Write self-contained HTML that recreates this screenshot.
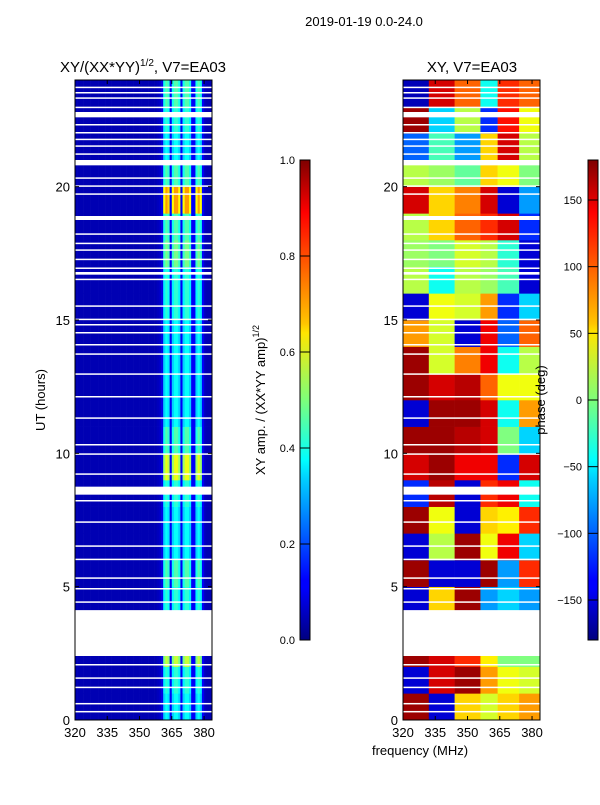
<!DOCTYPE html>
<html><head><meta charset="utf-8"><style>
html,body{margin:0;padding:0;background:#fff}
svg text{font-family:"Liberation Sans",sans-serif;fill:#000}
</style></head><body>
<svg id="fig" width="600" height="800" xmlns="http://www.w3.org/2000/svg">
<defs>
<linearGradient id="jet" x1="0" y1="1" x2="0" y2="0">
<stop offset="0" stop-color="#00007f"/><stop offset="0.11" stop-color="#0000ff"/><stop offset="0.125" stop-color="#0000ff"/>
<stop offset="0.34" stop-color="#00d4ff"/><stop offset="0.375" stop-color="#00ffff"/><stop offset="0.5" stop-color="#7dff7a"/>
<stop offset="0.64" stop-color="#ffe600"/><stop offset="0.66" stop-color="#ffc400"/><stop offset="0.89" stop-color="#ff0000"/><stop offset="1" stop-color="#7f0000"/>
</linearGradient>
</defs>
<text x="364" y="26" font-size="13" text-anchor="middle">2019-01-19 0.0-24.0</text>
<text x="143" y="72" font-size="15" text-anchor="middle">XY/(XX*YY)<tspan font-size="10" dy="-6">1/2</tspan><tspan dy="6">, V7=EA03</tspan></text>
<text x="472" y="72" font-size="15" text-anchor="middle">XY, V7=EA03</text>
<g id="left"></g>
<g id="right"></g>
<g id="axes"></g>
<text transform="translate(45,400) rotate(-90)" font-size="13" text-anchor="middle">UT (hours)</text>
<text x="420" y="755" font-size="13" text-anchor="middle">frequency (MHz)</text>
<rect x="300" y="160" width="10" height="480" fill="url(#jet)" stroke="#000" stroke-width="1"/>
<rect x="588" y="160" width="10" height="480" fill="url(#jet)" stroke="#000" stroke-width="1"/>
<text transform="translate(265,400) rotate(-90)" font-size="13" text-anchor="middle">XY amp. / (XX*YY amp)<tspan font-size="9" dy="-6">1/2</tspan></text>
<text transform="translate(545,400) rotate(-90)" font-size="13" text-anchor="middle">phase (deg)</text>
<g id="cbt"></g>
</svg>
<script>
const freqTicks=[320,335,350,365,380];
const hourTicks=[0,5,10,15,20];
const ampTicks=["0.0","0.2","0.4","0.6","0.8","1.0"];
const phaseTicks=[-150,-100,-50,0,50,100,150];
// amplitude column profile, 1 MHz bins from 320
const ampCols=[0.05,0.05,0.05,0.05,0.05,0.05,0.05,0.05,0.05,0.05,0.05,0.05,0.05,0.05,0.05,0.05,0.05,0.05,0.05,0.05,
0.05,0.05,0.05,0.05,0.05,0.05,0.05,0.05,0.05,0.05,0.05,0.05,0.05,0.05,0.05,0.05,0.05,0.05,0.06,0.07,
0.1,0.33,0.38,0.35,0.12,0.33,0.38,0.38,0.33,0.12,0.33,0.38,0.38,0.33,0.12,0.12,0.33,0.38,0.33,0.12,0.06,0.05,0.05,0.05];
const ampHours=[1.0,1.1,1.5,0,1.1,1.2,1.0,1.0,1.1,1.6,1.2,1.0,1.0,1.0,1.0,1.1,1.1,1.3,1.2,1.9,1.2,1.0,1.1,1.2];
const phaseBands=[320,332,344,356,364,374,384];
const phaseHours=[
[170,-150,60,30,60,80],[-150,150,170,80,40,30],[170,150,120,50,0,0],[0,0,0,0,0,0],
[-150,60,170,-80,-60,-80],[170,-150,-150,170,-80,120],[-150,20,170,40,140,-60],[170,40,-150,60,50,120],
[-120,160,-150,120,140,-40],[150,170,140,140,-120,150],[170,170,160,150,0,-60],[-150,170,170,150,-40,80],
[170,150,160,100,40,40],[170,30,90,140,-40,20],[80,30,-150,140,-100,100],[-150,40,30,80,-120,-60],
[20,-40,20,10,-20,-150],[10,0,30,20,-30,-150],[20,60,100,120,150,-120],[150,60,90,150,-150,-80],
[20,10,-10,60,40,0],[-100,-20,-80,60,150,20],[170,-60,20,-120,130,40],[-160,150,100,-40,120,100]];
const gaps=[[2.4,4.12],[0.3,0.34],[0.6,0.64],[1.2,1.25],[1.55,1.6],[2.05,2.1],[2.75,2.8],
[4.4,4.45],[4.9,4.95],[5.3,5.35],[6.0,6.05],[6.5,6.55],[7.4,7.45],[8.2,8.25],[8.45,8.75],[9.2,9.25],[9.95,10.0],[10.3,10.35],[11.3,11.35],[12.1,12.15],
[12.95,13.0],[13.7,13.75],[14.05,14.1],[14.5,14.55],[14.8,14.85],[15.0,15.05],[15.5,15.55],[16.5,16.55],[16.7,16.8],[16.92,16.97],[17.25,17.3],[17.6,17.65],[17.85,17.9],[18.2,18.25],[18.75,18.9],
[19.7,19.75],[20.0,20.05],[20.3,20.35],[20.8,21.0],[21.2,21.25],[21.5,21.55],[21.75,21.8],[22.0,22.05],[22.3,22.35],[22.6,22.8],[22.95,23.0],[23.3,23.35],[23.5,23.55],[23.7,23.75]];
const fMin=320,fMax=383.7,tMin=0,tMax=24;
const panels=[75,403], pw=137, yTop=80, yBot=720;
const X=(p,f)=>panels[p]+(f-fMin)/(fMax-fMin)*pw;
const Y=t=>yBot-(t-tMin)/(tMax-tMin)*(yBot-yTop);
function jet(v){v=Math.max(0,Math.min(1,v));
 const r=Math.max(0,Math.min(1,1.5-Math.abs(4*v-3))),g=Math.max(0,Math.min(1,1.5-Math.abs(4*v-2))),b=Math.max(0,Math.min(1,1.5-Math.abs(4*v-1)));
 return `rgb(${Math.round(r*255)},${Math.round(g*255)},${Math.round(b*255)})`;}
const NS='http://www.w3.org/2000/svg';
function mk(tag,at,parent){const e=document.createElementNS(NS,tag);for(const k in at)e.setAttribute(k,at[k]);parent.appendChild(e);return e;}
const L=document.getElementById('left'),R=document.getElementById('right'),A=document.getElementById('axes'),C=document.getElementById('cbt');
for(let h=0;h<24;h++){
 for(let c=0;c<ampCols.length;c++){
  const f0=fMin+c,f1=Math.min(fMax,f0+1);
  if(f0>=fMax)continue;
  const v=ampCols[c]>0.2?ampCols[c]*ampHours[h]:ampCols[c];
  const r=mk('rect',{x:X(0,f0),y:Y(h+1),width:X(0,f1)-X(0,f0)+0.3,height:Y(h)-Y(h+1)+0.3,fill:jet(v)},L);
  
  
 }
 for(let b=0;b<phaseBands.length-1;b++){
  const f0=phaseBands[b],f1=Math.min(fMax,phaseBands[b+1]);
  const r=mk('rect',{x:X(1,f0),y:Y(h+1),width:X(1,f1)-X(1,f0)+0.3,height:Y(h)-Y(h+1)+0.3,fill:jet((phaseHours[h][b]+180)/360)},R);
  
  
 }
}
for(const g of gaps){for(let p=0;p<2;p++){
 const r=mk('rect',{x:panels[p],y:Y(g[1]),width:pw,height:Math.max(1.5,Y(g[0])-Y(g[1])),fill:'#fff'},p?R:L);
 
 
}}
for(let p=0;p<2;p++){
 const fr=mk('rect',{x:panels[p],y:yTop,width:pw,height:yBot-yTop,fill:'none',stroke:'#000','stroke-width':1},A);
 
 
 for(const f of freqTicks){const x=X(p,f);
  mk('line',{x1:x,x2:x,y1:yBot,y2:yBot-4,stroke:'#000'},A);mk('line',{x1:x,x2:x,y1:yTop,y2:yTop+4,stroke:'#000'},A);
  const t=mk('text',{x:x,y:yBot+17,'font-size':13,'text-anchor':'middle'},A);t.textContent=f;
  
  }
 for(const h of hourTicks){const y=Y(h);
  mk('line',{x1:panels[p],x2:panels[p]+4,y1:y,y2:y,stroke:'#000'},A);mk('line',{x1:panels[p]+pw,x2:panels[p]+pw-4,y1:y,y2:y,stroke:'#000'},A);
  const t=mk('text',{x:panels[p]-5,y:y+5,'font-size':13,'text-anchor':'end'},A);t.textContent=h;
  
  }
}
ampTicks.forEach((s,i)=>{const y=640-i*96;
 mk('line',{x1:300,x2:310,y1:y,y2:y,stroke:'#000'},C);
 const t=mk('text',{x:295,y:y+4,'font-size':11,'text-anchor':'end'},C);t.textContent=s;
 
 });
phaseTicks.forEach(v=>{const y=400-v/360*480;
 mk('line',{x1:588,x2:598,y1:y,y2:y,stroke:'#000'},C);
 const t=mk('text',{x:582,y:y+4,'font-size':11,'text-anchor':'end'},C);t.textContent=v<0?'\u2212'+(-v):v;
 
 });
</script>
</body></html>
